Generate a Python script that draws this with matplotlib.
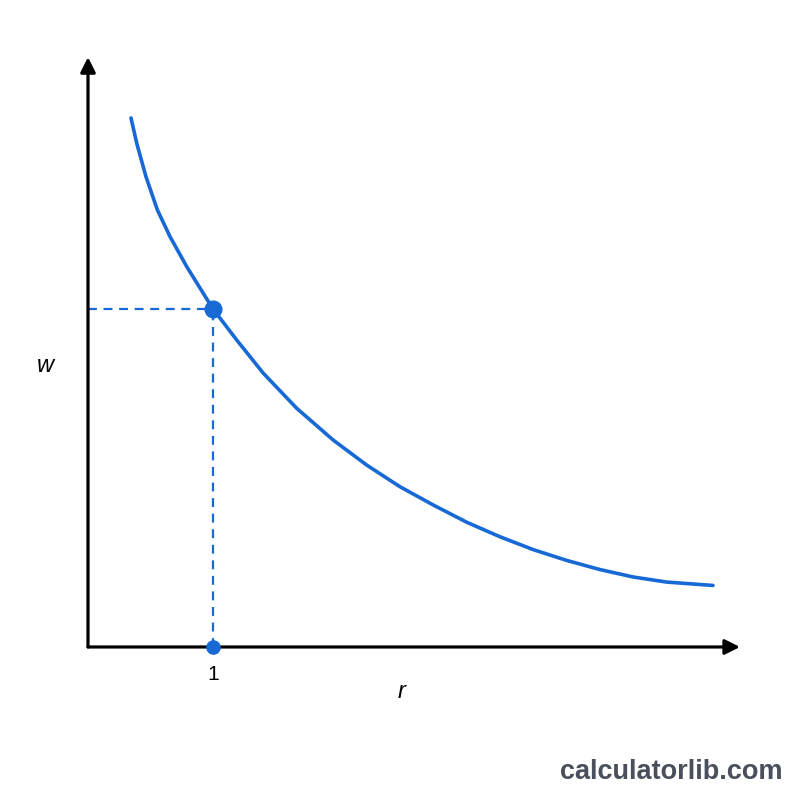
import matplotlib
matplotlib.use("Agg")
import matplotlib.pyplot as plt

# curve (r, w), w normalised so the marked point is 1
r_vals = [0.344, 0.390, 0.464, 0.555, 0.656, 0.790, 1.0, 1.190, 1.402, 1.670,
          1.962, 2.230, 2.496, 2.762, 3.030, 3.296, 3.562, 3.830, 4.096, 4.362,
          4.630, 5.0]
w_vals = [1.565, 1.490, 1.391, 1.293, 1.214, 1.125, 1.0, 0.908, 0.810, 0.706,
          0.612, 0.538, 0.474, 0.420, 0.369, 0.326, 0.288, 0.256, 0.229, 0.207,
          0.192, 0.182]

point_r = 1.0
point_w = 1.0
tick_label = "1"

blue = "#1769d6"
font = ["Liberation Sans", "DejaVu Sans"]

fig = plt.figure(figsize=(8, 8), dpi=100)
fig.patch.set_facecolor("white")
ax = fig.add_axes([0, 0, 1, 1])
ax.set_xlim(-0.704, 5.696)
ax.set_ylim(-0.4527, 1.914)
ax.axis("off")

# axes with arrow heads
arrow = dict(arrowstyle="-|>,head_length=0.9,head_width=0.45", color="black",
             lw=2.3, shrinkA=0, shrinkB=0)
ax.annotate("", xy=(5.216, 0), xytext=(0, 0), arrowprops=arrow)
ax.annotate("", xy=(0, 1.745), xytext=(0, 0), arrowprops=arrow)

# curve
ax.plot(r_vals, w_vals, color=blue, lw=2.6, solid_capstyle="round",
        solid_joinstyle="round", zorder=3)

# dashed guides
ax.plot([0, point_r], [point_w, point_w], color=blue, lw=1.6, ls=(0, (4, 3)), zorder=2)
ax.plot([point_r, point_r], [0, point_w], color=blue, lw=1.6, ls=(0, (4, 3)), zorder=2)

ax.plot([point_r], [point_w], "o", color=blue, ms=12, zorder=4)
ax.plot([point_r], [0], "o", color=blue, ms=9.5, zorder=4)

ax.text(point_r, -0.08, tick_label, ha="center", va="center", fontsize=15,
        family=font)
ax.text(2.512, -0.133, "r", ha="center", va="center", fontsize=17,
        style="italic", family=font)
ax.text(-0.344, 0.834, "w", ha="center", va="center", fontsize=17,
        style="italic", family=font)

fig.text(0.839, 0.035, "calculatorlib.com", ha="center", va="center",
         fontsize=19.5, fontweight="bold", color="#4a4f5c", family=font)

fig.savefig("out.png", dpi=100, facecolor="white")
